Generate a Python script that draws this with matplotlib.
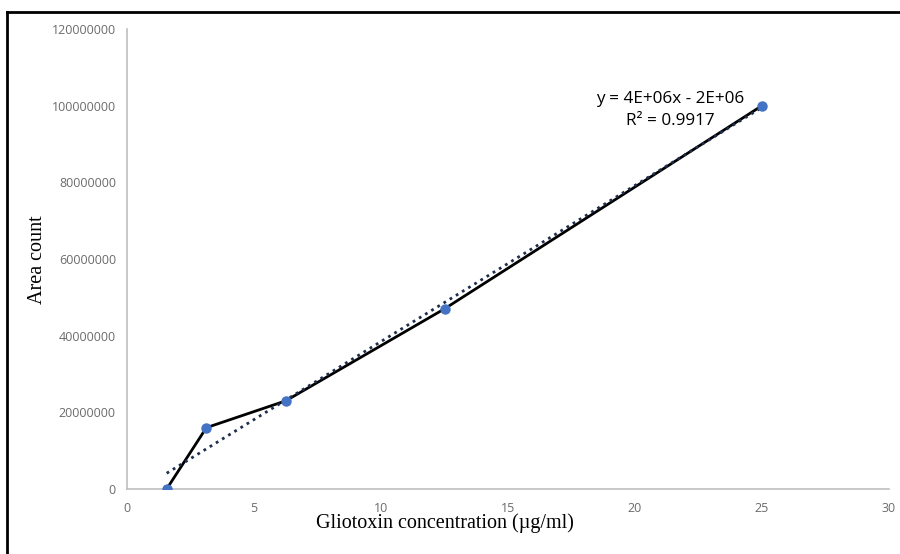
import matplotlib
matplotlib.use("Agg")
import matplotlib.pyplot as plt
from matplotlib.lines import Line2D
import numpy as np

# data
conc = [1.5625, 3.125, 6.25, 12.5, 25]
area = [0, 16000000, 23000000, 47000000, 100000000]
x_ticks = [0, 5, 10, 15, 20, 25, 30]
y_ticks = [0, 20000000, 40000000, 60000000, 80000000, 100000000, 120000000]

# linear trendline
slope, intercept = np.polyfit(conc, area, 1)
fit = np.polyval([slope, intercept], conc)
r2 = 1 - np.sum((np.array(area) - fit) ** 2) / np.sum((np.array(area) - np.mean(area)) ** 2)

fig = plt.figure(figsize=(9, 5.54), dpi=100)
ax = fig.add_axes([127 / 900, 65 / 554, 762 / 900, 460 / 554])

ax.plot(conc, area, color="black", lw=2, zorder=2)
ax.plot(conc, area, "o", color="#4472C4", ms=6.5, zorder=3)
tx = [conc[0], conc[-1]]
ax.plot(tx, np.polyval([slope, intercept], tx), color="#1f2d4d", lw=2,
        linestyle=(0, (1, 1.6)), zorder=2.5)

ax.set_xlim(0, 30)
ax.set_ylim(0, 120000000)
ax.set_xticks(x_ticks)
ax.set_yticks(y_ticks)
ax.set_xticklabels([str(t) for t in x_ticks])
ax.set_yticklabels([str(t) for t in y_ticks])
ax.tick_params(length=0, colors="#6b6b6b", labelsize=9)
for lab in ax.get_xticklabels() + ax.get_yticklabels():
    lab.set_family("Open Sans")
ax.tick_params(axis="x", pad=9)
ax.tick_params(axis="y", pad=8)

for s in ["top", "right"]:
    ax.spines[s].set_visible(False)
for s in ["left", "bottom"]:
    ax.spines[s].set_color("#bfbfbf")
    ax.spines[s].set_linewidth(1.2)

ax.set_xlabel("Gliotoxin concentration (µg/ml)", family="Liberation Serif",
              fontsize=14.5)
ax.set_ylabel("Area count", family="Liberation Serif", fontsize=14.5)
ax.xaxis.set_label_coords((445 - 127) / 762, -(523 - 489) / 460)
ax.yaxis.set_label_coords(-(127 - 37) / 762, (489 - 260) / 460)
ax.xaxis.label.set_va("center")
ax.yaxis.label.set_va("center")

eq = "y = 4E+06x - 2E+06\nR² = {:.4f}".format(r2)
ax.text(21.38, 98900000, eq, ha="center", va="center", family="Open Sans",
        fontsize=12.3, linespacing=1.45)

# outer frame (only top and left visible in the crop)
fig.add_artist(Line2D([7 / 900, 7 / 900], [0, 1 - 12 / 554], color="black", lw=2))
fig.add_artist(Line2D([7 / 900, 1], [1 - 12 / 554, 1 - 12 / 554], color="black", lw=2))

fig.savefig("out.png", dpi=100, facecolor="white")
